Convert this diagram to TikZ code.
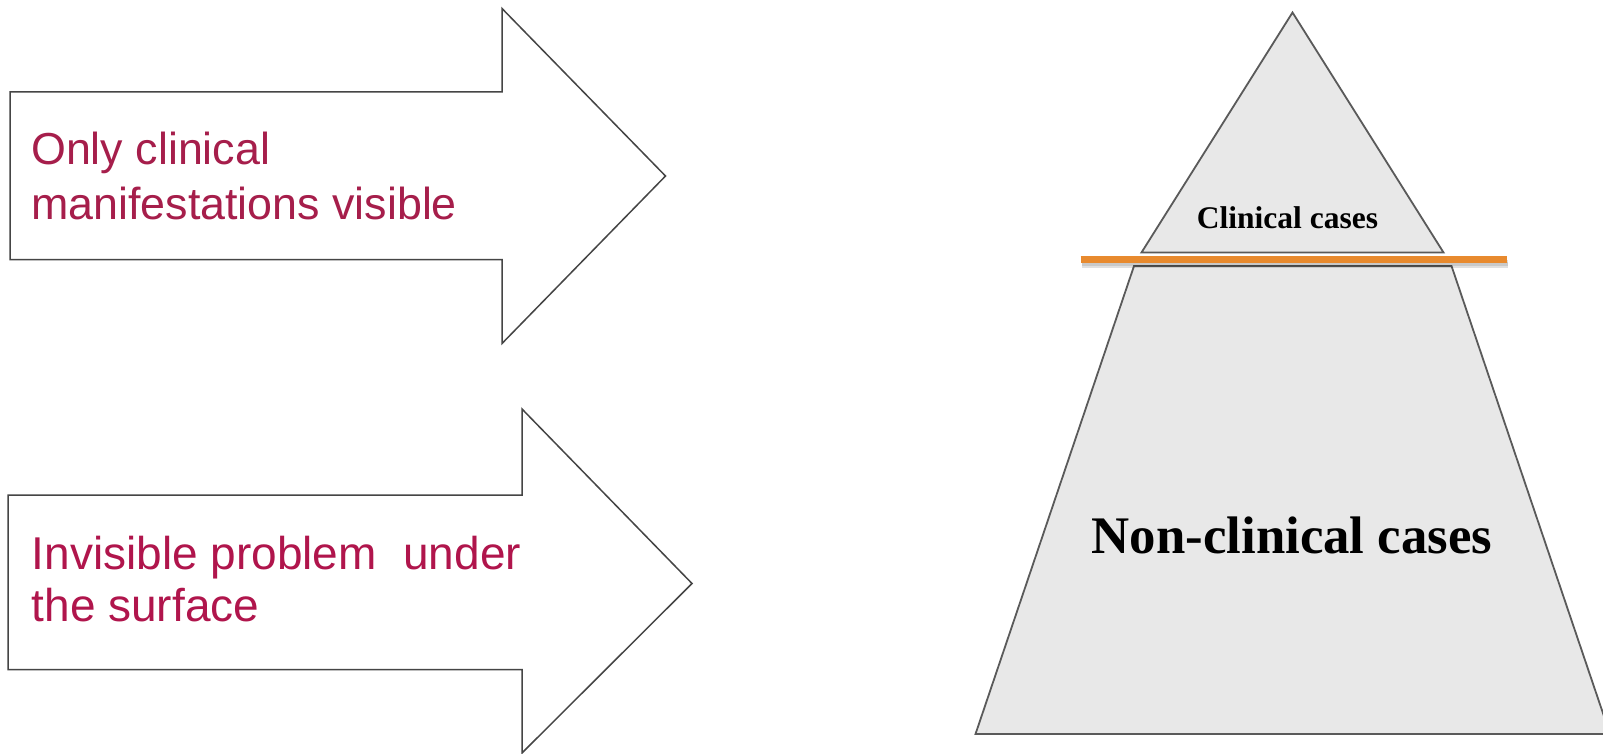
\documentclass[tikz,border=0pt]{standalone}
\usepackage{fontspec}
\setmainfont{Liberation Serif}
\newfontfamily\labelsans{Liberation Sans}
\usetikzlibrary{calc}

\definecolor{labelred}{HTML}{A61E4B}
\definecolor{labelred2}{HTML}{B0154C}
\definecolor{outline}{HTML}{454545}
\definecolor{icefill}{HTML}{E8E8E8}
\definecolor{iceedge}{HTML}{5A5A5A}
\definecolor{waterline}{HTML}{E88A2E}

\tikzset{
  blockarrow/.style={draw=outline, line width=1.5pt, fill=white, line join=miter},
  icepart/.style={draw=iceedge, line width=1.8pt, fill=icefill, line join=miter},
  armlabel/.style={anchor=base west, inner sep=0pt, align=left, text=labelred,
    font=\labelsans\fontsize{44.8}{55}\selectfont},
  icelabel/.style={anchor=base, inner sep=0pt, text=black}
}

\begin{document}
\begin{tikzpicture}[x=1pt,y=-1pt]
  \useasboundingbox (0,0) rectangle (1603,754);
  \clip (0,0) rectangle (1603,754);
  \fill[white] (0,0) rectangle (1603,754);

  % upper block arrow (label anchored at the baseline of its last line)
  \draw[blockarrow] (10,92) -- (502,92) -- (502,8.5) -- (665.5,176)
    -- (502,343.5) -- (502,259.5) -- (10,259.5) -- cycle;
  \node[armlabel] (visible) at (31,219.3) {Only clinical\\manifestations visible};

  % lower block arrow
  \draw[blockarrow] (8,495) -- (522,495) -- (522,409) -- (692,583.5)
    -- (522,753) -- (522,669.5) -- (8,669.5) -- cycle;
  \node[armlabel, text=labelred2, font=\labelsans\fontsize{46}{52.4}\selectfont]
    (hidden) at (31.5,621.7) {Invisible problem\hspace{0.3em} under\\the surface};

  % iceberg: tip above the waterline
  \draw[icepart] (1292.5,12.5) -- (1443.5,252.5) -- (1141.5,252.5) -- cycle;
  % iceberg: mass below the waterline
  \draw[icepart] (1134,266) -- (1451.5,266) -- (1610,734) -- (975.5,734) -- cycle;

  % waterline with its soft shadow
  \draw[black, opacity=0.12, line width=8pt] (1082,263.5) -- (1508,263.5);
  \draw[black, opacity=0.10, line width=4pt] (1082,263.5) -- (1508,263.5);
  \draw[waterline, line width=6.7pt] (1080.5,259.3) -- (1506.5,259.3);

  \node[icelabel, font=\bfseries\fontsize{31.5}{36}\selectfont] (tip) at (1287.5,228.3) {Clinical cases};
  \node[icelabel, font=\bfseries\fontsize{52.8}{60}\selectfont] (bulk) at (1292,553.3) {Non-clinical cases};
\end{tikzpicture}
\end{document}
